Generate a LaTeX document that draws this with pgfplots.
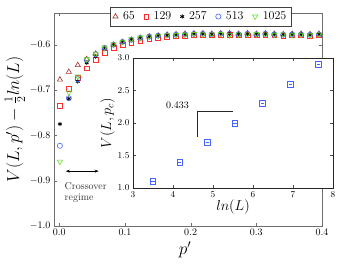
\documentclass[border=0pt]{standalone}
\usepackage{pgfplots}
\usepackage{pgfplotstable}
\pgfplotsset{compat=1.18}
\usetikzlibrary{arrows.meta}
\definecolor{cbrown}{RGB}{168,45,40}
\definecolor{cred}{RGB}{255,45,45}
\definecolor{cblue}{RGB}{70,100,255}
\definecolor{cgreen}{RGB}{100,225,40}
\definecolor{axgray}{RGB}{110,110,110}

\pgfplotstableread{
x      a      b      c      d      e
0.0010 -0.677 -0.734 -0.775 -0.823 -0.858
0.0146 -0.660 -0.698 -0.719 -0.718 -0.705
0.0282 -0.645 -0.673 -0.681 -0.676 -0.670
0.0418 -0.632 -0.652 -0.640 -0.633 -0.632
0.0554 -0.620 -0.633 -0.626 -0.621 -0.620
0.0690 -0.608 -0.617 -0.609 -0.607 -0.606
0.0826 -0.600 -0.607 -0.601 -0.600 -0.599
0.0962 -0.594 -0.600 -0.595 -0.594 -0.593
0.1098 -0.589 -0.596 -0.589 -0.589 -0.588
0.1234 -0.585 -0.592 -0.585 -0.585 -0.584
0.1370 -0.582 -0.588 -0.582 -0.582 -0.582
0.1506 -0.580 -0.585 -0.580 -0.580 -0.580
0.1642 -0.578 -0.583 -0.579 -0.579 -0.579
0.1778 -0.577 -0.581 -0.578 -0.578 -0.578
0.1914 -0.576 -0.580 -0.577 -0.577 -0.578
0.2050 -0.575 -0.579 -0.576 -0.576 -0.576
0.2186 -0.575 -0.579 -0.576 -0.576 -0.577
0.2322 -0.576 -0.579 -0.577 -0.577 -0.577
0.2458 -0.575 -0.579 -0.576 -0.576 -0.576
0.2594 -0.575 -0.578 -0.576 -0.576 -0.579
0.2730 -0.576 -0.579 -0.577 -0.577 -0.577
0.2866 -0.575 -0.579 -0.576 -0.576 -0.577
0.3002 -0.576 -0.579 -0.577 -0.577 -0.576
0.3138 -0.575 -0.578 -0.576 -0.576 -0.577
0.3274 -0.576 -0.579 -0.577 -0.577 -0.578
0.3410 -0.577 -0.580 -0.578 -0.578 -0.577
0.3546 -0.576 -0.579 -0.577 -0.577 -0.579
0.3682 -0.576 -0.579 -0.577 -0.577 -0.578
0.3818 -0.577 -0.580 -0.578 -0.578 -0.579
0.3954 -0.576 -0.579 -0.577 -0.577 -0.577
}\maindata

\pgfplotstableread{
lnL   V
3.50  1.10
4.17  1.40
4.86  1.70
5.55  2.00
6.24  2.30
6.93  2.60
7.63  2.90
}\insetdata

\begin{document}
\begin{tikzpicture}[x=1pt,y=1pt]
\begin{axis}[name=main, at={(0pt,0pt)}, anchor=south west,
  scale only axis, width=268pt, height=213pt,
  xmin=-0.008, xmax=0.4, ymin=-1.0, ymax=-0.53,
  xtick={0,0.1,0.2,0.3,0.4}, ytick={-1,-0.9,-0.8,-0.7,-0.6},
  xticklabel style={/pgf/number format/.cd, fixed, fixed zerofill, precision=1},
  yticklabel style={/pgf/number format/.cd, fixed, fixed zerofill, precision=1},
  tick label style={font=\normalsize},
  axis line style={color=axgray, line width=0.7pt},
  tick style={color=axgray},
  tick align=inside,
  major tick length=3pt,
  xlabel={$p'$}, ylabel={$V(L,p')-\frac{1}{2}ln(L)$},
  label style={font=\LARGE},
  xlabel style={yshift=1pt, xshift=-3pt},
  ylabel style={yshift=-2pt},
  legend columns=5,
  legend style={at={(0.547,1.028)}, anchor=north, draw=black!75, fill=white,
    font=\large, inner sep=2.5pt,
    /tikz/every odd column/.append style={column sep=3pt},
    /tikz/every even column/.append style={column sep=7pt}},
]
\addplot[only marks, mark=triangle, mark size=3pt, color=cbrown, line width=0.6pt] table[x=x,y=a]{\maindata};
\addlegendentry{65}
\addplot[only marks, mark=square, mark size=2.4pt, color=cred, line width=0.6pt] table[x=x,y=b]{\maindata};
\addlegendentry{129}
\addplot[only marks, mark=asterisk, mark size=2.2pt, color=black, line width=0.8pt] table[x=x,y=c]{\maindata};
\addlegendentry{257}
\addplot[only marks, mark=o, mark size=2.6pt, color=cblue, line width=0.6pt] table[x=x,y=d]{\maindata};
\addlegendentry{513}
\addplot[only marks, mark=triangle, mark options={rotate=180}, mark size=3pt, color=cgreen, line width=0.6pt] table[x=x,y=e]{\maindata};
\addlegendentry{1025}
\draw[{Stealth[length=4pt]}-{Stealth[length=4pt]}, line width=0.6pt] (axis cs:0.010,-0.879) -- (axis cs:0.060,-0.879);
\node[anchor=west, align=left, font=\normalsize, text=black!80, inner sep=0pt] at (axis cs:0.008,-0.926) {Crossover\\[-1pt]regime};
\end{axis}

\begin{axis}[name=inset, at={(79pt,38pt)}, anchor=south west,
  scale only axis, width=200pt, height=130pt,
  xmin=3, xmax=8, ymin=1, ymax=3,
  xtick={3,4,5,6,7,8}, ytick={1,1.5,2,2.5,3},
  yticklabel style={/pgf/number format/.cd, fixed, fixed zerofill, precision=1},
  tick label style={font=\small},
  axis background/.style={fill=white},
  axis line style={color=black!85, line width=0.7pt},
  tick style={color=black!70},
  tick align=inside,
  major tick length=3pt,
  xlabel={$ln(L)$}, ylabel={$V(L,p_c)$},
  label style={font=\Large},
  xlabel style={yshift=5pt},
  ylabel style={yshift=-4pt},
]
\addplot[only marks, mark=square, mark size=2.8pt, color=cblue, line width=0.6pt] table[x=lnL,y=V]{\insetdata};
\addplot[only marks, mark=-, mark size=1.6pt, color=cblue, line width=0.6pt] table[x=lnL,y=V]{\insetdata};
\draw[line width=0.6pt, black!85] (axis cs:4.6,1.785) -- (axis cs:4.6,2.185) -- (axis cs:5.5,2.185);
\node[font=\normalsize] at (axis cs:4.11,2.28) {0.433};
\end{axis}
\pgfresetboundingbox
\path (-54pt,-43pt) rectangle (287pt,226pt);
\end{tikzpicture}
\end{document}
